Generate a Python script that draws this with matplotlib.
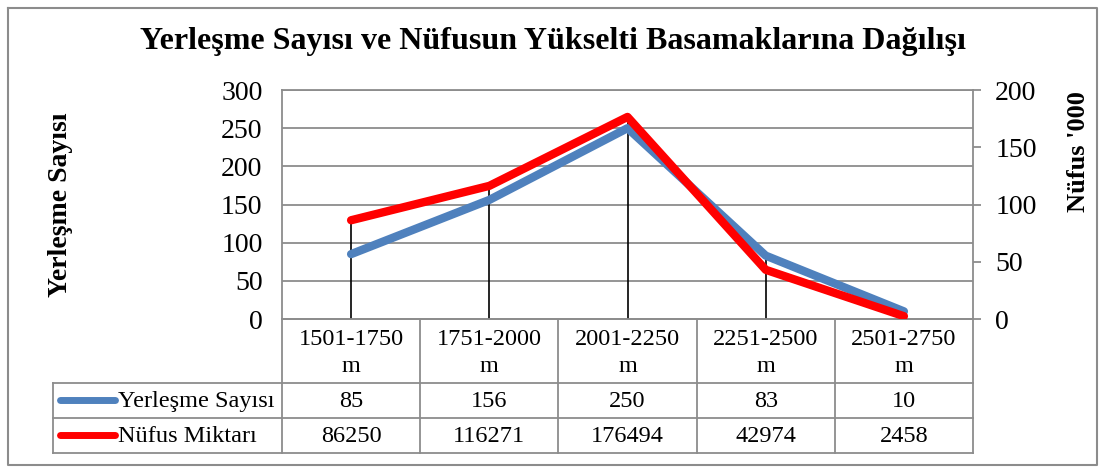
import matplotlib
matplotlib.use('Agg')
from matplotlib import pyplot as plt
import numpy as np

plt.rcParams['font.family'] = ['Liberation Serif', 'DejaVu Serif']

title = 'Yerleşme Sayısı ve Nüfusun Yükselti Basamaklarına Dağılışı'
categories = ['1501-1750\nm', '1751-2000\nm', '2001-2250\nm', '2251-2500\nm', '2501-2750\nm']
yerlesme = [85, 156, 250, 83, 10]
nufus = [86250, 116271, 176494, 42974, 2458]
series_names = ['Yerleşme Sayısı', 'Nüfus Miktarı']
colors = ['#4F81BD', '#FF0000']
grid_c = '#8c8c8c'

W, H = 1105, 469
fig = plt.figure(figsize=(W / 100, H / 100), dpi=100)

# background axes in pixel coordinates for frame + table
bg = fig.add_axes([0, 0, 1, 1])
bg.set_xlim(0, W)
bg.set_ylim(H, 0)
bg.axis('off')

# plot area
px0, px1, py0, py1 = 282, 973, 90, 319
ax = fig.add_axes([px0 / W, 1 - py1 / H, (px1 - px0) / W, (py1 - py0) / H])
x = np.arange(len(categories)) + 0.5
nuf_k = np.array(nufus) / 1000.0
ax.set_xlim(0, len(categories))
ax.set_ylim(0, 300)
ax.set_yticks(np.arange(0, 301, 50))
ax.set_xticks([])
ax.grid(axis='y', color=grid_c, lw=1.3)
ax.set_axisbelow(True)
for s in ax.spines.values():
    s.set_color(grid_c)
    s.set_linewidth(1.3)
ax.tick_params(axis='y', length=0, labelsize=20, pad=14)

# drop lines to the higher of the two series
top = np.maximum(np.array(yerlesme), nuf_k * 300 / 200)
ax.vlines(x, 0, top, color='black', lw=1.2, zorder=1)
ax.plot(x, yerlesme, color=colors[0], lw=6, solid_capstyle='round', zorder=3)

ax2 = ax.twinx()
ax2.set_ylim(0, 200)
ax2.set_yticks(np.arange(0, 201, 50))
ax2.tick_params(axis='y', length=6, width=1.3, color=grid_c, labelsize=20, pad=10)
for s in ax2.spines.values():
    s.set_visible(False)
ax2.plot(x, nuf_k, color=colors[1], lw=6, solid_capstyle='round', zorder=4)

ax.set_ylabel('Yerleşme Sayısı', fontsize=20, fontweight='bold')
ax.yaxis.set_label_coords((73 - px0) / (px1 - px0), 0.5)
ax2.set_ylabel("Nüfus '000", fontsize=19, fontweight='bold', rotation=90)
ax2.yaxis.set_label_coords((1067 - px0) / (px1 - px0), 0.73)

fig.text(0.5, 1 - 42 / H, title, ha='center', va='center', fontsize=23, fontweight='bold')

# outer frame
bg.plot([8, 1097, 1097, 8, 8], [8, 8, 465, 465, 8], color=grid_c, lw=1.5)

# data table
col_x = np.linspace(px0, px1, len(categories) + 1)
r0, r1, r2, r3 = py1, 383, 418, 453
lx = 53
tk = dict(color=grid_c, lw=1.3)
bg.plot([px0, px1], [r0, r0], **tk)
for yy in (r1, r2, r3):
    bg.plot([lx, px1], [yy, yy], **tk)
for xx in col_x:
    bg.plot([xx, xx], [r0, r3], **tk)
bg.plot([lx, lx], [r1, r3], **tk)

fs = 17.5
for i, cat in enumerate(categories):
    cx = (col_x[i] + col_x[i + 1]) / 2
    bg.text(cx, (r0 + r1) / 2 + 2, cat, ha='center', va='center', fontsize=fs, linespacing=1.35)
    bg.text(cx, (r1 + r2) / 2 + 1, str(yerlesme[i]), ha='center', va='center', fontsize=fs)
    bg.text(cx, (r2 + r3) / 2 + 1, str(nufus[i]), ha='center', va='center', fontsize=fs)

for j, (name, c) in enumerate(zip(series_names, colors)):
    yy = ((r1 + r2) / 2, (r2 + r3) / 2)[j]
    bg.plot([60, 115], [yy, yy], color=c, lw=5, solid_capstyle='round')
    bg.text(118, yy + 1, name, ha='left', va='center', fontsize=fs)

fig.savefig('out.png', dpi=100)
